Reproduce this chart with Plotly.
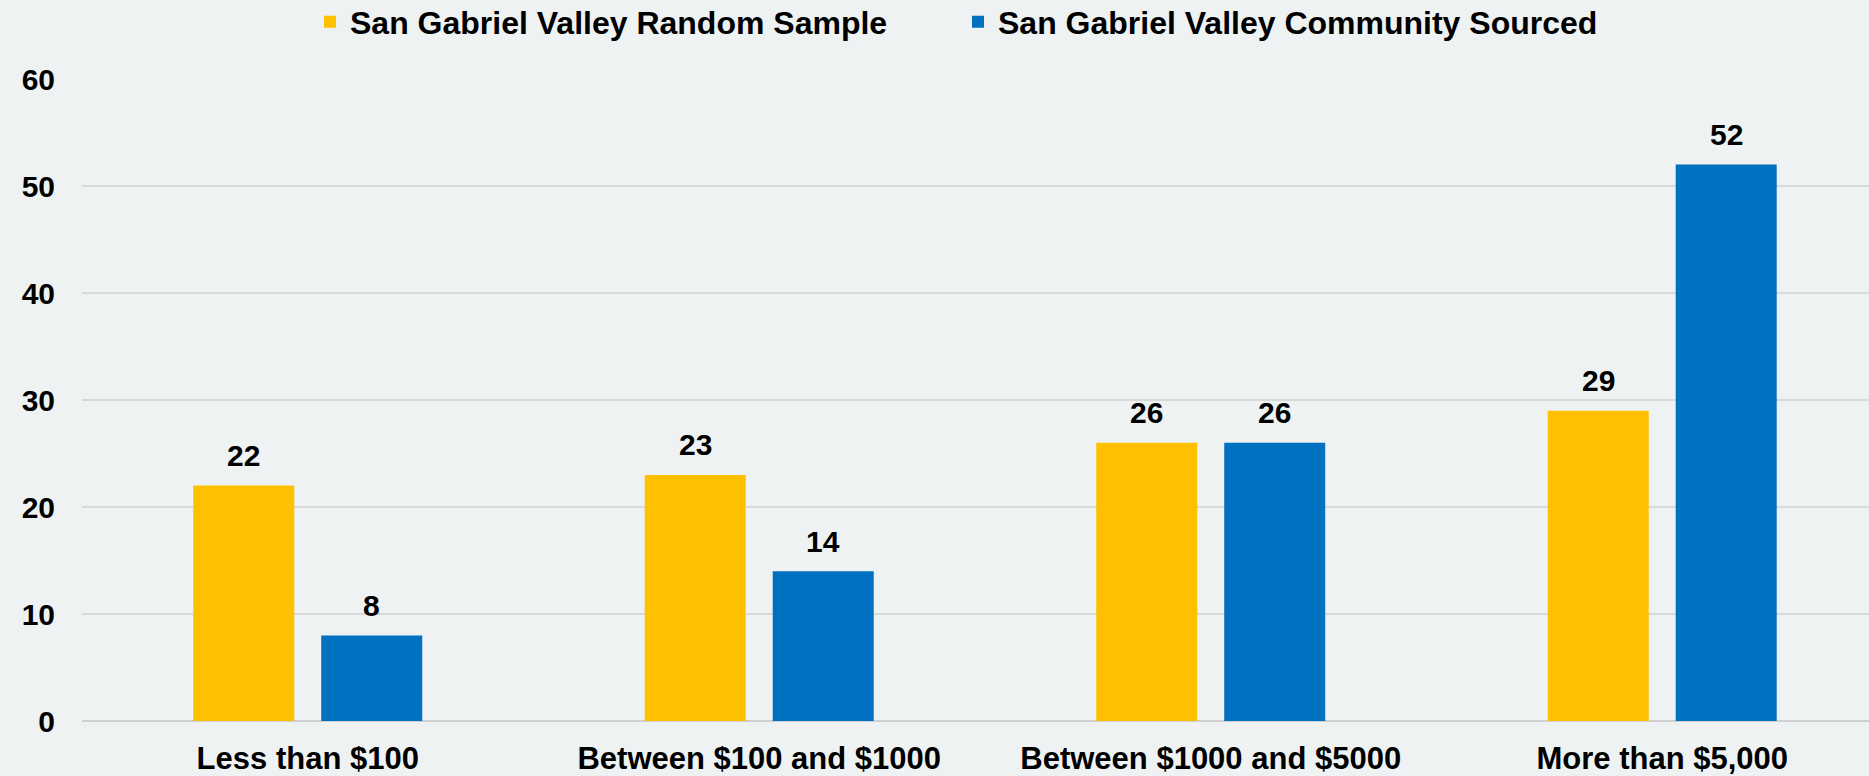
import plotly.graph_objects as go

categories = ["Less than $100", "Between $100 and $1000", "Between $1000 and $5000", "More than $5,000"]
random_sample = [22, 23, 26, 29]
community_sourced = [8, 14, 26, 52]
series_names = ["San Gabriel Valley Random Sample", "San Gabriel Valley Community Sourced"]
y_ticks = [0, 10, 20, 30, 40, 50, 60]

YELLOW = "#FFC000"
BLUE = "#0070C0"
BG = "#EEF2F3"
FONT = "Liberation Sans, Arial, sans-serif"

fig = go.Figure()
fig.add_trace(go.Bar(x=categories, y=random_sample, name=series_names[0],
                     marker=dict(color=YELLOW, line=dict(width=0))))
fig.add_trace(go.Bar(x=categories, y=community_sourced, name=series_names[1],
                     marker=dict(color=BLUE, line=dict(width=0))))

annotations = []
for vals, shift in ((random_sample, -64), (community_sourced, 64)):
    for c, v in zip(categories, vals):
        annotations.append(dict(x=c, y=v, text=str(v), showarrow=False,
                                xshift=shift, yshift=30, yanchor="middle",
                                font=dict(family=FONT, size=30, color="#000000", weight="bold")))

fig.update_layout(
    width=1869, height=776,
    paper_bgcolor=BG, plot_bgcolor=BG,
    margin=dict(l=82, r=0, t=79, b=55, autoexpand=False),
    barmode="group", bargap=0.433, bargroupgap=0.211,
    font=dict(family=FONT, size=30, color="#000000", weight="bold"),
    showlegend=True,
    legend=dict(orientation="h", xref="paper", yref="container",
                x=0.1276, y=1 - 22 / 776, xanchor="left", yanchor="middle",
                font=dict(family=FONT, size=32, color="#000000", weight="bold"),
                bgcolor="rgba(0,0,0,0)", entrywidth=603, entrywidthmode="pixels",
                itemclick=False, traceorder="normal"),
    annotations=annotations,
    xaxis=dict(range=[-0.5, 3.458], showgrid=False, showline=False, zeroline=False,
               ticks="", ticklabelstandoff=16, automargin=False,
               tickfont=dict(family=FONT, size=31, color="#000000", weight="bold")),
    yaxis=dict(range=[0, 60], tickvals=y_ticks, showgrid=True, gridcolor="#D9D9D9",
               gridwidth=1.5, zeroline=True, zerolinecolor="#CFCFCF", zerolinewidth=2,
               showline=False, ticks="", ticklabelstandoff=26, automargin=False,
               tickfont=dict(family=FONT, size=30, color="#000000", weight="bold")),
)

fig.write_html("out.html", config={"displayModeBar": False},
               post_script="document.body.style.margin='0';document.body.style.overflow='hidden';")
